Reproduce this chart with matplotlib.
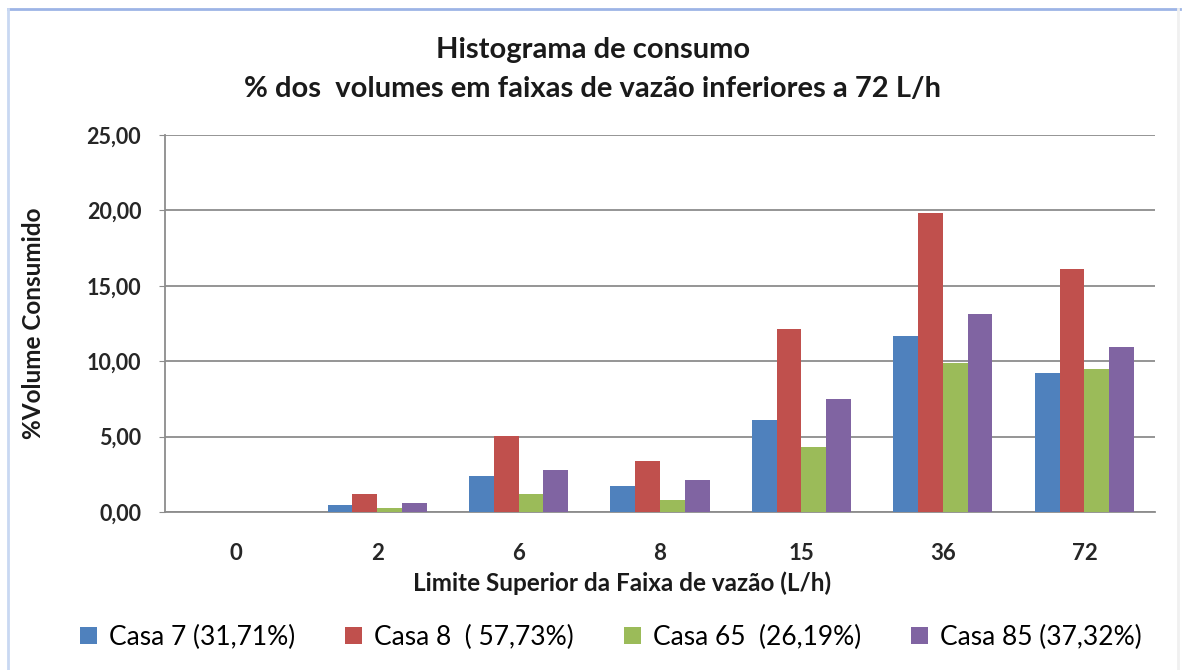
import numpy as np
import matplotlib
matplotlib.use("Agg")
from matplotlib import pyplot as plt
from matplotlib.lines import Line2D

# faixas de vazao (limite superior, L/h)
faixas = ["0", "2", "6", "8", "15", "36", "72"]

# % do volume consumido em cada faixa
casa7 = [0.0, 0.45, 2.40, 1.70, 6.10, 11.70, 9.20]
casa8 = [0.0, 1.20, 5.02, 3.36, 12.12, 19.82, 16.12]
casa65 = [0.0, 0.27, 1.20, 0.78, 4.29, 9.90, 9.47]
casa85 = [0.0, 0.61, 2.81, 2.15, 7.52, 13.14, 10.92]

series = [casa7, casa8, casa65, casa85]
labels = ["Casa 7 (31,71%)", "Casa 8  ( 57,73%)", "Casa 65  (26,19%)", "Casa 85 (37,32%)"]
colors = ["#4F81BD", "#C0504D", "#9BBB59", "#8064A2"]

plt.rcParams['font.family'] = ['Lato', 'DejaVu Sans']

fig = plt.figure(figsize=(11.86, 6.70), dpi=100)
fig.patch.set_facecolor("white")
ax = fig.add_axes([0.139, 0.2358, 0.835, 0.5627])

x = np.arange(len(faixas))
w = 0.175
for i, (vals, lab, col) in enumerate(zip(series, labels, colors)):
    ax.bar(x + (i - 1.5) * w, vals, width=w, color=col, label=lab, zorder=3)

yt = np.arange(0, 25.01, 5)
ax.set_xlim(-0.5, len(faixas) - 0.5)
ax.set_ylim(0, 25)
ax.set_yticks(yt)
ax.set_yticklabels([("%.2f" % v).replace(".", ",") for v in yt])
ax.set_xticks(x)
ax.set_xticklabels(faixas)

ax.grid(axis="y", color="#8c8c8c", linewidth=1.3, zorder=0)
for s in ["top", "right"]:
    ax.spines[s].set_visible(False)
for s in ["left", "bottom"]:
    ax.spines[s].set_color("#8c8c8c")
    ax.spines[s].set_linewidth(1.3)
ax.tick_params(axis="y", length=4, color="#8c8c8c", pad=13, labelsize=15.5)
ax.tick_params(axis="x", length=0, pad=22, labelsize=16)
for t in ax.get_xticklabels() + ax.get_yticklabels():
    t.set_fontweight("bold")
    t.set_color("#262626")

ax.set_xlabel("Limite Superior da Faixa de vazão (L/h)", fontsize=17.5,
              fontweight="bold", color="#1a1a1a")
ax.xaxis.set_label_coords(0.462, -0.158)
ax.set_ylabel("%Volume Consumido", fontsize=17.5, fontweight="bold",
              color="#1a1a1a", labelpad=30)

fig.text(0.5, 0.925, "Histograma de consumo", ha="center", va="center",
         fontsize=21, fontweight="bold", color="#1a1a1a")
fig.text(0.5, 0.867, "% dos  volumes em faixas de vazão inferiores a 72 L/h",
         ha="center", va="center", fontsize=21, fontweight="bold", color="#1a1a1a")

fig.legend(loc="center", bbox_to_anchor=(0.515, 0.049), ncol=4, frameon=False,
           fontsize=19, handlelength=0.65, handleheight=0.65, handletextpad=0.45,
           columnspacing=1.9)

# moldura azul clara
fig.add_artist(Line2D([0.007, 0.995], [0.987, 0.987], color="#9db4e6", linewidth=2))
fig.add_artist(Line2D([0.007, 0.007], [0.0, 0.987], color="#c9d8f2", linewidth=2))
fig.add_artist(Line2D([0.993, 0.993], [0.0, 0.987], color="#f0f0f0", linewidth=2))

fig.savefig("out.png", dpi=100)
